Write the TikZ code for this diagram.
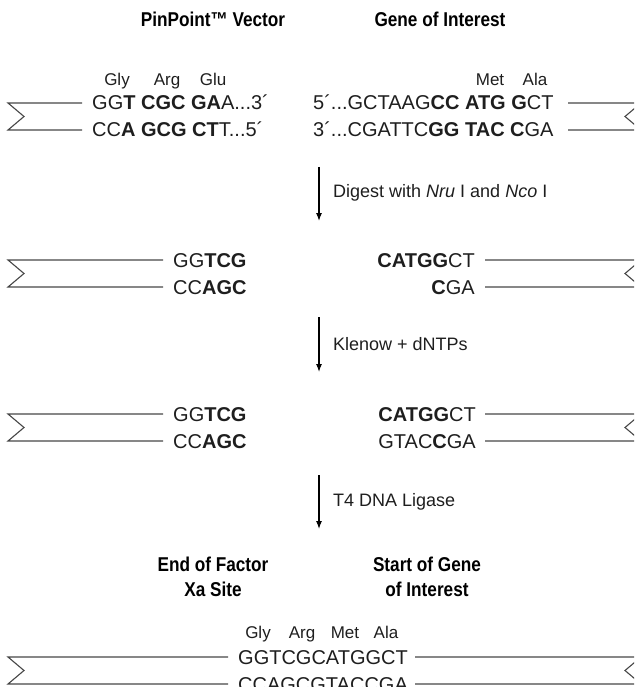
\documentclass[tikz,border=0pt]{standalone}
\usepackage{fontspec}
\setmainfont{Liberation Sans}
\newfontfamily\headfont[FakeStretch=0.86]{Liberation Sans}
\usetikzlibrary{arrows.meta}
\definecolor{seqink}{RGB}{30,30,30}
\definecolor{armgray}{RGB}{70,70,70}

\begin{document}
\begin{tikzpicture}[x=1pt, y=-1pt,
  backbone/.style={draw=armgray, line width=1.1pt},
  seq/.style={font=\fontsize{20}{24}\selectfont, text=seqink, inner sep=0pt},
  aalabel/.style={font=\fontsize{17}{20}\selectfont, text=seqink, inner sep=0pt, anchor=base},
  headlbl/.style={font=\headfont\bfseries\fontsize{20}{25}\selectfont, align=center, inner sep=0pt},
  procarrow/.style={draw=black, line width=1.1pt, -{Latex[length=8pt, width=6pt]}},
  proclabel/.style={font=\fontsize{18}{22}\selectfont, text=seqink, inner sep=0pt, anchor=west}
]
\useasboundingbox (0,0) rectangle (634,687);
\clip (0,0) rectangle (634,687);
% Column headings
\node[headlbl, anchor=base] (hvec) at (213,27) {PinPoint™ Vector};
\node[headlbl, anchor=base] (hgene) at (440,27) {Gene of Interest};
% Vector and insert arms: notch on the left, reversed notch running off the right edge
\foreach \yt/\yb/\xl/\xr in {103/130/82/568, 260/287/163/485, 414/441/163/485, 657/684/228/415} {
  \draw[backbone] (\xl,\yt) -- (8,\yt) -- (24,{(\yt+\yb)/2}) -- (8,\yb) -- (\xl,\yb);
  \draw[backbone] (\xr,\yt) -- (641,\yt) -- (625,{(\yt+\yb)/2}) -- (641,\yb) -- (\xr,\yb);
}
% Starting ends
\foreach \x/\aa in {117/Gly, 167/Arg, 213/Glu, 490/Met, 535/Ala}
  \node[aalabel] (aa1\aa) at (\x,86) {\aa};
\node[seq, anchor=base west] (v1t) at (92,110) {GG\textbf{T CGC GA}A...3´};
\node[seq, anchor=base west] (v1b) at (92,137) {CC\textbf{A GCG CT}T...5´};
\node[seq, anchor=base west] (g1t) at (313,110) {5´...GCTAAG\textbf{CC ATG G}CT};
\node[seq, anchor=base west] (g1b) at (313,137) {3´...CGATTC\textbf{GG TAC C}GA};
\coordinate (s1a) at (319,167);
\coordinate (s1b) at (319,221);
\draw[procarrow] (s1a) -- (s1b);
\node[proclabel] (s1l) at (333,193) {Digest with \textit{Nru} I and \textit{Nco} I};
% After the digest
\node[seq, anchor=base west] (v2t) at (173,267) {GG\textbf{TCG}};
\node[seq, anchor=base west] (v2b) at (173,294) {CC\textbf{AGC}};
\node[seq, anchor=base east] (g2t) at (475,267) {\textbf{CATGG}CT};
\node[seq, anchor=base east] (g2b) at (475,294) {\textbf{C}GA};
\coordinate (s2a) at (319,317);
\coordinate (s2b) at (319,372);
\draw[procarrow] (s2a) -- (s2b);
\node[proclabel] (s2l) at (333,344) {Klenow + dNTPs};
% Blunted ends
\node[seq, anchor=base west] (v3t) at (173,421) {GG\textbf{TCG}};
\node[seq, anchor=base west] (v3b) at (173,448) {CC\textbf{AGC}};
\node[seq, anchor=base east] (g3t) at (476,421) {\textbf{CATGG}CT};
\node[seq, anchor=base east] (g3b) at (476,448) {GTAC\textbf{C}GA};
\coordinate (s3a) at (319,475);
\coordinate (s3b) at (319,529);
\draw[procarrow] (s3a) -- (s3b);
\node[proclabel] (s3l) at (333,502) {T4 DNA Ligase};
% Ligated junction
\node[headlbl, anchor=north] (hxa) at (213,557) {End of Factor\\Xa Site};
\node[headlbl, anchor=north] (hstart) at (427,557) {Start of Gene\\of Interest};
\foreach \x/\aa in {258/Gly, 302/Arg, 345/Met, 386/Ala}
  \node[aalabel] (aa4\aa) at (\x,638) {\aa};
\node[seq, anchor=base west] (j4t) at (238,664) {GGTCGCATGGCT};
\node[seq, anchor=base west] (j4b) at (238,691) {CCAGCGTACCGA};
\end{tikzpicture}
\end{document}
